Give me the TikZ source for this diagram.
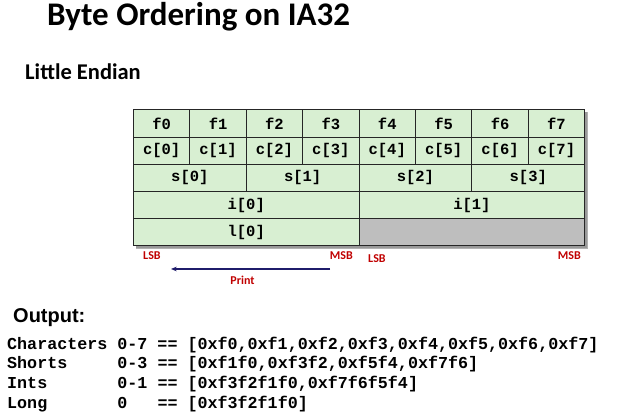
\documentclass[tikz,border=0pt]{standalone}
\usepackage{fontspec}
\usepackage{xcolor}
\usetikzlibrary{arrows.meta,positioning}
\setmainfont{Carlito}
\newfontfamily\headfont{Liberation Sans}
\newfontfamily\codefont{Liberation Mono}
\definecolor{byteink}{HTML}{262626}
\definecolor{bytegreen}{HTML}{D8EFD2}
\definecolor{bytegray}{HTML}{BEBEBE}
\definecolor{bytered}{HTML}{C00000}
\definecolor{bytenavy}{HTML}{1F1C6B}

\begin{document}
\begin{tikzpicture}[
  x=1pt,y=-1pt,
  cell/.style={draw=byteink,fill=bytegreen,line width=0.9pt,anchor=north west,inner sep=0pt,
    minimum height=27.2pt,font=\codefont\bfseries\fontsize{15.5}{15.5}\selectfont},
  endlabel/.style={text=bytered,font=\bfseries\fontsize{12}{12}\selectfont,inner sep=0pt},
  outline/.style={anchor=base west,inner sep=0pt,font=\codefont\bfseries\fontsize{16.7}{16.7}\selectfont},
  arrow/.style={-{Stealth[length=2mm,width=1.6mm]},line width=1.3pt,draw=bytenavy}
]
\useasboundingbox (0,0) rectangle (619,414);
% titles
\node[anchor=base west,inner sep=0pt,font=\bfseries\fontsize{33}{33}\selectfont] (title) at (47,26) {Byte Ordering on IA32};
\node[anchor=base west,inner sep=0pt,font=\bfseries\fontsize{22.5}{22.5}\selectfont] (endian) at (25,80) {Little Endian};
% shadow behind the table
\fill[gray!60] (136,112.5) rectangle (588,249.5);
\fill[gray!80] (135.5,112) rectangle (587,248.5);
% bytes and chars
\foreach \k in {0,...,7}{
  \node[cell,minimum width=56.4pt] (f\k) at ({133+56.4*\k},109.5) {f\k};
  \node[cell,minimum width=56.4pt] (c\k) at ({133+56.4*\k},136.7) {c[\k]};
}
% shorts
\foreach \k in {0,...,3}
  \node[cell,minimum width=112.8pt] (s\k) at ({133+112.8*\k},163.9) {s[\k]};
% ints and long
\node[cell,minimum width=225.6pt] (i0) at (133,191.1) {i[0]};
\node[cell,minimum width=225.6pt] (i1) at (358.6,191.1) {i[1]};
\node[cell,minimum width=225.6pt] (l0) at (133,218.3) {l[0]};
\node[cell,minimum width=225.6pt,fill=bytegray] (pad) at (358.6,218.3) {};
% ends
\node[endlabel,anchor=base west] (lsbA) at (143,260) {LSB};
\node[endlabel,anchor=base east] (msbA) at (353,260) {MSB};
\node[endlabel,anchor=base west] (lsbB) at (368,262.5) {LSB};
\node[endlabel,anchor=base east] (msbB) at (581,260) {MSB};
\coordinate (printfrom) at (330,269);
\coordinate (printto) at (171,269);
\draw[arrow] (printfrom) -- (printto);
\node[endlabel,anchor=base] (print) at (242.5,285) {Print};
% output
\node[anchor=base west,inner sep=0pt,font=\headfont\bfseries\fontsize{20}{20}\selectfont] (output) at (13,323) {Output:};
\node[outline] (chars) at (7,349) {Characters~0-7~==~[0xf0,0xf1,0xf2,0xf3,0xf4,0xf5,0xf6,0xf7]};
\node[outline] (shorts) at (7,368.5) {Shorts~~~~~0-3~==~[0xf1f0,0xf3f2,0xf5f4,0xf7f6]};
\node[outline] (ints) at (7,388.5) {Ints~~~~~~~0-1~==~[0xf3f2f1f0,0xf7f6f5f4]};
\node[outline] (long) at (7,408) {Long~~~~~~~0~~~==~[0xf3f2f1f0]};
\end{tikzpicture}
\end{document}
